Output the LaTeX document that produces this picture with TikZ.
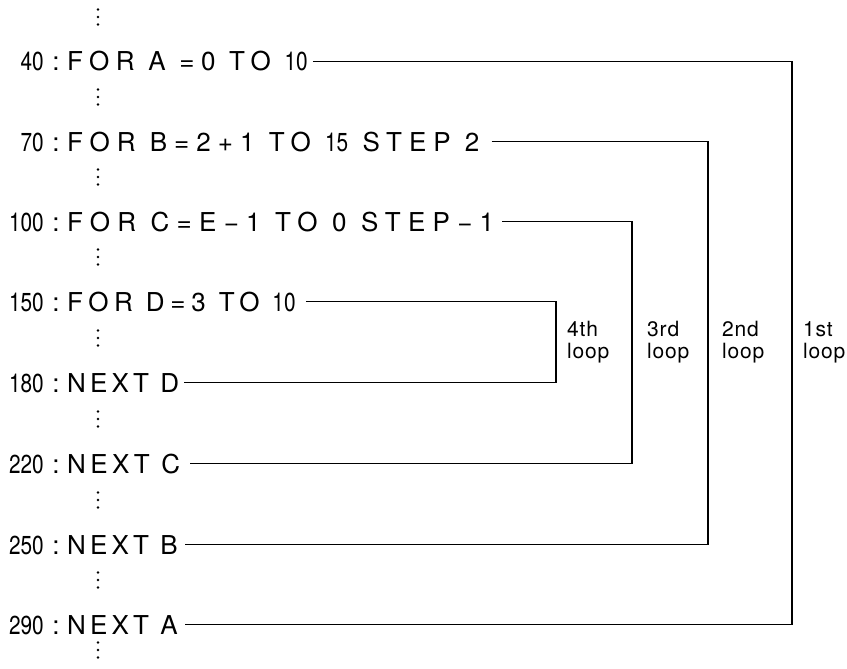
\documentclass[tikz,border=0pt]{standalone}
\usepackage{fontspec}
\setmainfont{TeX Gyre Heros}
\newfontfamily\codef{TeX Gyre Heros}
\newfontfamily\numf[FakeStretch=0.8]{TeX Gyre Heros}
\newcommand\nm[1]{{\numf #1}}
\newcommand\ls[1]{\addfontfeature{LetterSpace=#1}}
\begin{document}
\begin{tikzpicture}[x=1pt,y=-1pt,
 code/.style={anchor=base west,inner xsep=0pt,inner ysep=0pt,font=\codef\fontsize{26}{30}\selectfont},
 lnum/.style={anchor=base east,inner xsep=0pt,inner ysep=0pt,font=\numf\fontsize{26}{30}\selectfont},
 colon/.style={anchor=base,inner sep=0pt,font=\fontsize{26}{30}\selectfont},
 lab/.style={align=left,anchor=west,font=\addfontfeature{LetterSpace=4}\fontsize{21}{22}\selectfont,inner sep=0pt},
 wire/.style={line width=1.5pt}]
\useasboundingbox (0,0) rectangle (847,669);
% rows: baseline = line y + 9
\node[lnum] (n40) at (44,71) {40};   \node[colon] (c40) at (56,71) {:};
\node[code] (r40) at (67,71) {\ls{25}FOR A =0 TO \nm{10}};
\node[lnum] (n70) at (44,151) {70};  \node[colon] (c70) at (56,151) {:};
\node[code] (r70) at (67,151) {\ls{27}FOR B=2+1 TO \nm{15} STEP 2};
\node[lnum] (n100) at (44,231) {100}; \node[colon] (c100) at (56,231) {:};
\node[code] (r100) at (67,231) {\ls{28}FOR C=E−1 TO 0 STEP−1};
\node[lnum] (n150) at (44,311) {150}; \node[colon] (c150) at (56,311) {:};
\node[code] (r150) at (67,311) {\ls{22}FOR D=3 TO \nm{10}};
\node[lnum] (n180) at (44,392) {180}; \node[colon] (c180) at (56,392) {:};
\node[code] (r180) at (67,392) {\ls{16}NEXT D};
\node[lnum] (n220) at (44,473) {220}; \node[colon] (c220) at (56,473) {:};
\node[code] (r220) at (67,473) {\ls{17}NEXT C};
\node[lnum] (n250) at (44,554) {250}; \node[colon] (c250) at (56,554) {:};
\node[code] (r250) at (67,554) {\ls{16}NEXT B};
\node[lnum] (n290) at (44,634) {290}; \node[colon] (c290) at (56,634) {:};
\node[code] (r290) at (67,634) {\ls{16}NEXT A};
% corners
\coordinate (k4) at (556,0);
\coordinate (k3) at (632,0);
\coordinate (k2) at (708,0);
\coordinate (k1) at (792,0);
\draw[wire] ([xshift=5pt]r40.east) -- (r40.east -| k1) -- (r290.east -| k1) -- ([xshift=7pt]r290.east);
\draw[wire] ([xshift=12pt]r70.east) -- (r70.east -| k2) -- (r250.east -| k2) -- ([xshift=7pt]r250.east);
\draw[wire] ([xshift=8pt]r100.east) -- (r100.east -| k3) -- (r220.east -| k3) -- ([xshift=10pt]r220.east);
\draw[wire] ([xshift=10pt]r150.east) -- (r150.east -| k4) -- (r180.east -| k4) -- ([xshift=5pt]r180.east);
% labels
\node[lab] (l4) at (567,342) {4th\\loop};
\node[lab] (l3) at (647,342) {3rd\\loop};
\node[lab] (l2) at (722,342) {2nd\\loop};
\node[lab] (l1) at (803,342) {1st\\loop};
% continuation dots
\foreach \y in {17,97,177,257,338,419,500,580,650}
  \foreach \d in {-7.5,0,7.5}
    \fill (98,\y+\d) circle (1.4);
\end{tikzpicture}
\end{document}
